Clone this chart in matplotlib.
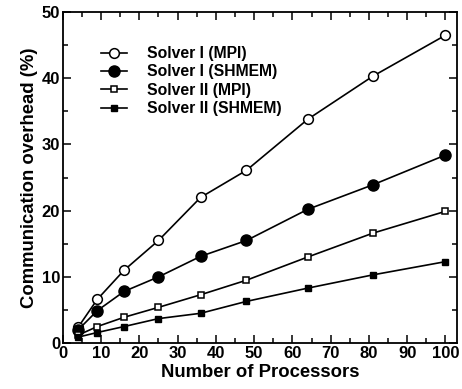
import matplotlib.pyplot as plt
from matplotlib.ticker import MultipleLocator

plt.rcParams['font.family'] = ['Liberation Sans', 'DejaVu Sans']
plt.rcParams['font.weight'] = 'bold'

procs = [4, 9, 16, 25, 36, 48, 64, 81, 100]
solver1_mpi = [2.4, 6.6, 11.0, 15.5, 22.0, 26.1, 33.8, 40.3, 46.5]
solver1_shmem = [2.0, 4.9, 7.8, 10.0, 13.1, 15.5, 20.2, 23.9, 28.4]
solver2_mpi = [1.2, 2.5, 3.9, 5.4, 7.3, 9.5, 13.0, 16.6, 19.9]
solver2_shmem = [0.9, 1.6, 2.5, 3.7, 4.5, 6.3, 8.3, 10.3, 12.3]

fig = plt.figure(figsize=(4.62, 3.89), dpi=100)
ax = fig.add_axes([0.136, 0.118, 0.853, 0.851])

ax.plot(procs, solver1_mpi, color='black', lw=1.2, marker='o', ms=7,
        mfc='white', mec='black', mew=1.1, label='Solver I (MPI)')
ax.plot(procs, solver1_shmem, color='black', lw=1.2, marker='o', ms=8,
        mfc='black', mec='black', label='Solver I (SHMEM)')
ax.plot(procs, solver2_mpi, color='black', lw=1.2, marker='s', ms=5,
        mfc='white', mec='black', mew=1.1, label='Solver II (MPI)')
ax.plot(procs, solver2_shmem, color='black', lw=1.2, marker='s', ms=5,
        mfc='black', mec='black', label='Solver II (SHMEM)')

ax.set_xlim(0, 103)
ax.set_ylim(0, 50)
ax.xaxis.set_major_locator(MultipleLocator(10))
ax.xaxis.set_minor_locator(MultipleLocator(5))
ax.yaxis.set_major_locator(MultipleLocator(10))
ax.yaxis.set_minor_locator(MultipleLocator(5))
ax.tick_params(which='both', direction='in', top=True, right=True,
               labelsize=12, width=1.1)
ax.tick_params(which='major', length=6)
ax.tick_params(which='minor', length=3.5)
ax.tick_params(axis='x', pad=2)
ax.tick_params(axis='y', pad=2)
for s in ax.spines.values():
    s.set_linewidth(1.3)

ax.set_xlabel('Number of Processors', fontsize=13.3, fontweight='bold', labelpad=2)
ax.set_ylabel('Communication overhead (%)', fontsize=13.3, fontweight='bold', labelpad=3)

ax.legend(loc='upper left', bbox_to_anchor=(0.062, 0.94), frameon=False,
          fontsize=11.3, handlelength=1.6, labelspacing=0.22, handletextpad=1.3)

fig.savefig('out.png', dpi=100)
